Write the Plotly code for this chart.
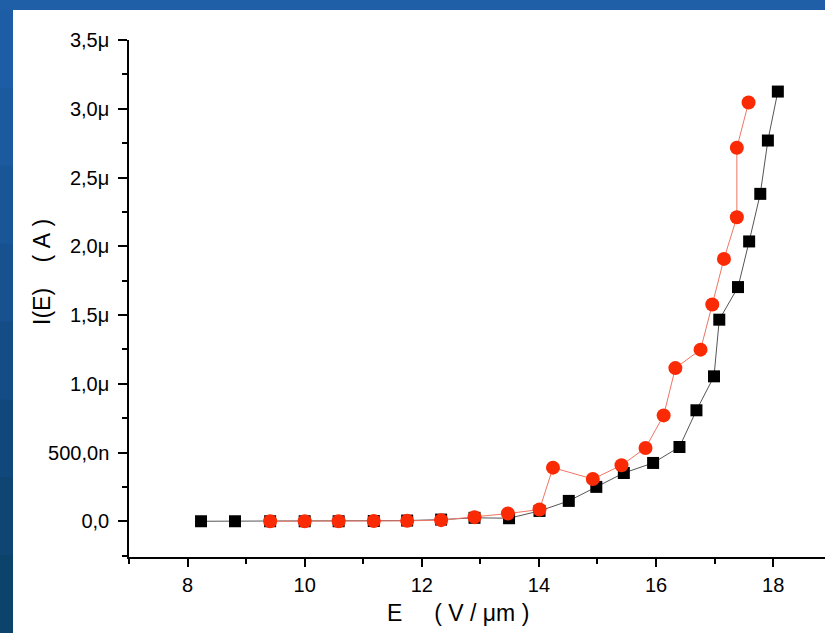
import plotly.graph_objects as go

# ---- data ----
black_E = [8.23, 8.81, 9.41, 10.0, 10.58, 11.18, 11.75, 12.33, 12.90, 13.49, 14.01,
           14.51, 14.98, 15.45, 15.95, 16.40, 16.69, 16.99, 17.08, 17.40, 17.59,
           17.78, 17.91, 18.08]
black_I = [0.0, 0.0, 0.0, 0.0, 0.0, 0.002, 0.005, 0.012, 0.025, 0.022, 0.075,
           0.148, 0.25, 0.351, 0.424, 0.54, 0.807, 1.054, 1.466, 1.703, 2.035,
           2.381, 2.769, 3.125]
red_E = [9.41, 10.0, 10.58, 11.18, 11.75, 12.33, 12.90, 13.47, 14.01, 14.24,
         14.92, 15.41, 15.82, 16.13, 16.33, 16.76, 16.96, 17.16, 17.38, 17.38, 17.58]
red_I = [0.0, 0.0, 0.0, 0.002, 0.003, 0.008, 0.03, 0.056, 0.085, 0.39,
         0.307, 0.407, 0.533, 0.77, 1.114, 1.248, 1.576, 1.908, 2.211, 2.716, 3.045]

y_tickvals = [0.0, 0.5, 1.0, 1.5, 2.0, 2.5, 3.0, 3.5]
y_ticktext = ["0,0", "500,0n", "1,0μ", "1,5μ", "2,0μ", "2,5μ", "3,0μ", "3,5μ"]
x_tickvals = [8, 10, 12, 14, 16, 18]
x_ticktext = ["8", "10", "12", "14", "16", "18"]

NB = "\u00a0"
x_title = "E" + NB * 5 + "(" + NB + "V" + NB + "/" + NB + "μm" + NB + ")"
y_title = "I(E)" + NB * 4 + "(" + NB + "A" + NB + ")"

# ---- layout geometry ----
W, H = 825, 633
L, R, T, B = 129, 0, 40, 76
pw, ph = W - L - R, H - T - B

def px(xpix):
    return (xpix - L) / pw

def py(ypix):
    return (H - B - ypix) / ph

FONT = "Liberation Sans, Arial, sans-serif"

fig = go.Figure()
fig.add_trace(go.Scatter(
    x=black_E, y=black_I, mode="lines+markers",
    line=dict(color="#555555", width=1),
    marker=dict(symbol="square", size=12, color="black"),
    showlegend=False))
fig.add_trace(go.Scatter(
    x=red_E, y=red_I, mode="lines+markers",
    line=dict(color="#f07565", width=1),
    marker=dict(symbol="circle", size=14, color="#fa2a05"),
    showlegend=False))

shapes = []
# white slide area
shapes.append(dict(type="rect", xref="paper", yref="paper",
                   x0=px(13), x1=px(W + 5), y0=py(H + 5), y1=py(10),
                   fillcolor="white", line=dict(width=0), layer="below"))
# darker gradient on left strip (bottom)
left_cols = ["#1d5da5", "#1b5a9e", "#195697", "#175190", "#144c86", "#11487c", "#0e4572", "#0c436a"]
n = len(left_cols)
for i, c in enumerate(left_cols):
    y0p = 10 + (H - 10) * i / n
    y1p = 10 + (H - 10) * (i + 1) / n
    shapes.append(dict(type="rect", xref="paper", yref="paper",
                       x0=px(-2), x1=px(13), y0=py(y1p + 1), y1=py(y0p),
                       fillcolor=c, line=dict(width=0), layer="below"))

annotations = [
    dict(text=x_title, xref="paper", yref="paper", x=px(458), y=py(613),
         showarrow=False, font=dict(family=FONT, size=23, color="black"),
         xanchor="center", yanchor="middle"),
    dict(text=y_title, xref="paper", yref="paper", x=px(42), y=py(272),
         showarrow=False, textangle=-90, font=dict(family=FONT, size=23, color="black"),
         xanchor="center", yanchor="middle"),
]

fig.update_layout(
    width=W, height=H,
    margin=dict(l=L, r=R, t=T, b=B),
    paper_bgcolor="#1f5fa8",
    plot_bgcolor="white",
    shapes=shapes,
    annotations=annotations,
    xaxis=dict(range=[7, 7 + pw / 58.56], showgrid=False, zeroline=False,
               showline=True, linecolor="black", linewidth=1.5,
               ticks="outside", ticklen=8, tickwidth=1.5, tickcolor="black",
               tickvals=x_tickvals, ticktext=x_ticktext,
               tickfont=dict(family=FONT, size=20, color="black"),
               ticklabelstandoff=1,
               minor=dict(ticks="outside", tick0=7, dtick=2, ticklen=5,
                          tickwidth=1.5, tickcolor="black", showgrid=False)),
    yaxis=dict(range=[-0.26, 3.5], showgrid=False, zeroline=False,
               showline=True, linecolor="black", linewidth=1.5,
               ticks="outside", ticklen=9, tickwidth=1.5, tickcolor="black",
               tickvals=y_tickvals, ticktext=y_ticktext,
               tickfont=dict(family=FONT, size=20, color="black"),
               ticklabelstandoff=5,
               minor=dict(ticks="outside", tick0=-0.25, dtick=0.5, ticklen=5,
                          tickwidth=1.5, tickcolor="black", showgrid=False)),
)

fig.write_html("out.html",
               config={"displayModeBar": False},
               post_script="document.body.style.margin='0';document.body.style.overflow='hidden';")
